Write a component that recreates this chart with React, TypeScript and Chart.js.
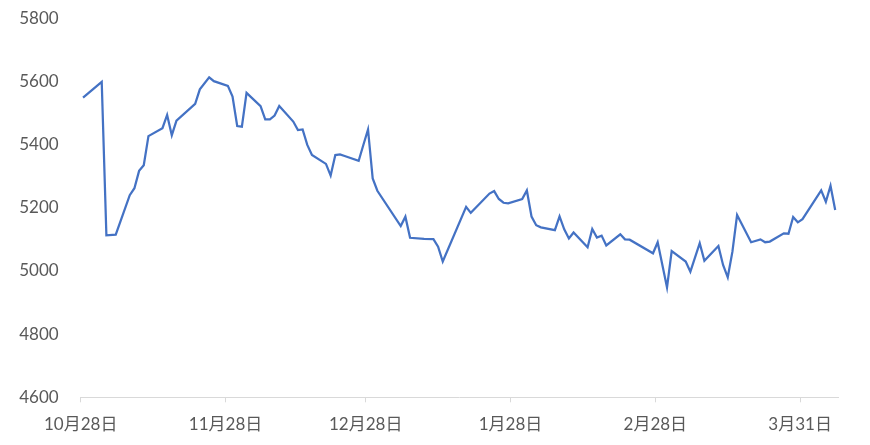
import React, { useEffect, useRef } from "react";
import { Chart, registerables } from "chart.js";

Chart.register(...registerables);

// Day offsets from 10月28日 (date axis, one unit per calendar day)
const dayOffsets = [
  0, 4, 5, 7, 10, 11, 12, 13, 14, 17, 18, 19, 20, 24, 25, 27, 28, 31, 32, 33,
  34, 35, 38, 39, 40, 41, 42, 45, 46, 47, 48, 49, 52, 53, 54, 55, 56, 59, 60,
  61, 62, 63, 68, 69, 70, 73, 75, 76, 77, 82, 83, 87, 88, 89, 90, 91, 94, 95,
  96, 97, 98, 101, 102, 103, 104, 105, 108, 109, 110, 111, 112, 115, 116, 117,
  122, 123, 125, 126, 129, 130, 132, 133, 136, 137, 138, 139, 140, 143, 145,
  146, 147, 150, 151, 152, 153, 154, 158, 159, 160, 161,
];

const prices = [
  5549, 5599, 5113, 5115, 5240, 5262, 5317, 5335, 5427, 5452, 5494, 5430, 5476,
  5529, 5575, 5613, 5601, 5586, 5552, 5459, 5457, 5564, 5522, 5480, 5480, 5492,
  5522, 5473, 5446, 5448, 5399, 5367, 5339, 5302, 5367, 5369, 5364, 5349, 5399,
  5448, 5293, 5254, 5142, 5172, 5105, 5102, 5101, 5077, 5030, 5203, 5184, 5245,
  5253, 5228, 5216, 5214, 5228, 5255, 5172, 5145, 5138, 5129, 5173, 5132, 5103,
  5122, 5075, 5133, 5106, 5112, 5081, 5116, 5100, 5099, 5056, 5091, 4948, 5063,
  5030, 4998, 5088, 5032, 5079, 5019, 4980, 5061, 5177, 5091, 5100, 5091, 5093,
  5119, 5118, 5171, 5154, 5164, 5255, 5219, 5270, 5193,
];

// X-axis tick labels and their day offsets
const tickLabels = ["10月28日", "11月28日", "12月28日", "1月28日", "2月28日", "3月31日"];
const tickDays = [0, 31, 61, 92, 123, 154];

const yMin = 4600;
const yMax = 5800;
const yStep = 200;

const FONT = "Lato, 'Noto Sans CJK SC', sans-serif";

export default function App() {
  const canvasRef = useRef<HTMLCanvasElement | null>(null);

  useEffect(() => {
    document.body.style.margin = "0";
    const canvas = canvasRef.current;
    if (!canvas) return;
    const points = dayOffsets.map((d, i) => ({ x: d, y: prices[i] }));
    const tickPos = tickDays.map((d) => d - 0.5);

    const chart = new Chart(canvas, {
      type: "line",
      data: {
        datasets: [
          {
            data: points,
            borderColor: "#4472C4",
            borderWidth: 2.25,
            pointRadius: 0,
            tension: 0,
            fill: false,
          },
        ],
      },
      options: {
        animation: false,
        responsive: false,
        maintainAspectRatio: false,
        layout: { padding: { left: 0, right: 32, top: 18.3, bottom: 0 } },
        plugins: { legend: { display: false }, tooltip: { enabled: false } },
        scales: {
          x: {
            type: "linear",
            min: -0.5,
            max: 161.6,
            afterBuildTicks: (scale: any) => {
              scale.ticks = tickPos.map((v) => ({ value: v }));
            },
            afterFit: (scale: any) => {
              scale.height = 47.7;
            },
            grid: {
              drawOnChartArea: false,
              drawTicks: true,
              tickLength: 5,
              color: "#d9d9d9",
            },
            border: { display: true, color: "#d9d9d9", width: 1 },
            ticks: {
              autoSkip: false,
              maxRotation: 0,
              minRotation: 0,
              padding: 12,
              color: "#595959",
              font: { size: 17, family: FONT },
              callback: (value: any) => {
                const idx = tickPos.findIndex((p) => Math.abs(p - Number(value)) < 0.01);
                return idx >= 0 ? tickLabels[idx] : "";
              },
            },
          },
          y: {
            min: yMin,
            max: yMax,
            afterFit: (scale: any) => {
              scale.width = 80.7;
            },
            grid: {
              display: true,
              drawOnChartArea: false,
              drawTicks: true,
              tickLength: 22,
              color: "rgba(0,0,0,0)",
            },
            border: { display: false },
            ticks: {
              stepSize: yStep,
              padding: 0,
              color: "#595959",
              font: { size: 17, family: FONT },
              callback: (value: any) => String(value),
            },
          },
        },
      },
    });
    return () => chart.destroy();
  }, []);

  return (
    <div style={{ width: 870, height: 445 }}>
      <canvas ref={canvasRef} width={870} height={445} style={{ display: "block" }} />
    </div>
  );
}
